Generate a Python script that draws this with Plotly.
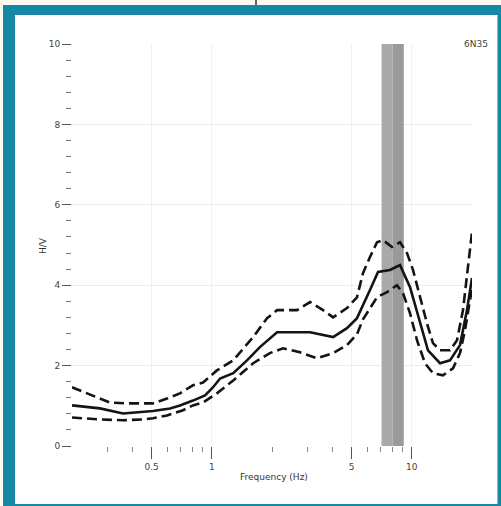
import plotly.graph_objects as go
import math

# Mean H/V curve
mean_freq = [0.200, 0.276, 0.360, 0.508, 0.618, 0.693, 0.805, 0.925, 1.01, 1.10, 1.28, 1.50, 1.74,
             2.12, 3.10, 4.04, 4.74, 5.32, 6.18, 6.78, 7.78, 8.73, 9.80, 10.99, 12.05, 13.84,
             15.52, 17.42, 18.88, 20.0]
mean_hv = [1.01, 0.935, 0.81, 0.87, 0.935, 1.01, 1.13, 1.26, 1.45, 1.68, 1.81, 2.13, 2.46,
           2.83, 2.83, 2.71, 2.93, 3.18, 3.88, 4.33, 4.38, 4.50, 3.95, 3.05, 2.38, 2.06,
           2.13, 2.51, 3.38, 4.18]

# Upper (mean + std) curve
upper_freq = [0.200, 0.255, 0.310, 0.377, 0.508, 0.597, 0.693, 0.805, 0.904, 1.06, 1.28, 1.61,
              1.89, 2.12, 2.67, 3.10, 3.60, 4.04, 4.74, 5.32, 5.70, 6.18, 6.70, 7.18, 7.96,
              8.73, 9.46, 10.14, 10.99, 11.91, 12.76, 13.84, 15.52, 16.83, 18.03, 19.10, 20.0]
upper_hv = [1.46, 1.26, 1.08, 1.06, 1.06, 1.18, 1.31, 1.51, 1.58, 1.88, 2.13, 2.71,
            3.18, 3.38, 3.38, 3.58, 3.38, 3.20, 3.43, 3.70, 4.30, 4.70, 5.07, 5.12, 4.95,
            5.07, 4.80, 4.38, 3.70, 3.05, 2.56, 2.38, 2.38, 2.63, 3.38, 4.45, 5.32]

# Lower (mean - std) curve
lower_freq = [0.200, 0.276, 0.360, 0.453, 0.508, 0.597, 0.718, 0.805, 0.904, 1.06, 1.28, 1.61,
              1.95, 2.27, 2.76, 3.36, 4.04, 4.74, 5.32, 5.70, 6.70, 7.52, 8.43, 9.04, 9.80,
              10.62, 11.64, 12.76, 14.32, 16.07, 17.42, 18.45, 19.54, 20.0]
lower_hv = [0.71, 0.66, 0.64, 0.66, 0.69, 0.76, 0.89, 1.01, 1.08, 1.31, 1.63, 2.06,
            2.31, 2.43, 2.33, 2.18, 2.31, 2.51, 2.78, 3.15, 3.70, 3.83, 4.00, 3.80, 3.30,
            2.63, 2.06, 1.81, 1.76, 1.93, 2.31, 2.88, 3.63, 3.88]

# Peak frequency band
band_light = [7.06, 8.0]
band_dark = [8.0, 9.12]

x_major = [0.5, 1, 5, 10]
x_major_labels = ["0.5", "1", "5", "10"]
x_minor = [0.3, 0.4, 0.6, 0.7, 0.8, 0.9, 2, 3, 4, 6, 7, 8, 9]
y_major = [0, 2, 4, 6, 8, 10]

site_label = "6N35"
FONT = "DejaVu Sans"

fig = go.Figure()

line_col = "#141414"
fig.add_trace(go.Scatter(x=upper_freq, y=upper_hv, mode="lines",
                         line=dict(color=line_col, width=2.6, dash="10px,5px"), showlegend=False))
fig.add_trace(go.Scatter(x=lower_freq, y=lower_hv, mode="lines",
                         line=dict(color=line_col, width=2.6, dash="10px,5px"), showlegend=False))
fig.add_trace(go.Scatter(x=mean_freq, y=mean_hv, mode="lines",
                         line=dict(color=line_col, width=2.6), showlegend=False))

# frame
fig.add_shape(type="rect", xref="paper", yref="paper", x0=-0.1725, x1=1.08, y0=-0.16, y1=1.097,
              fillcolor="#1587a7", line=dict(width=0), layer="below")
fig.add_shape(type="rect", xref="paper", yref="paper", x0=-0.1425, x1=1.0637, y0=-0.1443, y1=1.0721,
              fillcolor="white", line=dict(width=0), layer="below")
fig.add_shape(type="line", xref="paper", yref="paper", x0=(256 - 72) / 400, x1=(256 - 72) / 400,
              y0=1.097, y1=1.12, line=dict(color="#333333", width=1.5), layer="below")

# band
fig.add_shape(type="rect", xref="x", yref="y", x0=band_light[0], x1=band_light[1],
              y0=0, y1=10, fillcolor="#a9a9a9", line=dict(width=0), layer="between")
fig.add_shape(type="rect", xref="x", yref="y", x0=band_dark[0], x1=band_dark[1],
              y0=0, y1=10, fillcolor="#9a9a9a", line=dict(width=0), layer="between")

fig.update_xaxes(type="log", range=[math.log10(0.2), math.log10(20)],
                 tickmode="array", tickvals=x_major, ticktext=x_major_labels,
                 ticks="outside", ticklen=12, tickcolor="#555555", tickwidth=1,
                 tickfont=dict(family=FONT, size=9, color="#444444"),
                 showgrid=True, gridcolor="#efefef", gridwidth=1,
                 minor=dict(tickmode="array", tickvals=x_minor, ticks="outside", ticklen=5,
                            tickcolor="#888888", showgrid=False),
                 showline=False, zeroline=False)
fig.update_yaxes(range=[0, 10], tickmode="array", tickvals=y_major,
                 ticks="outside", ticklen=9, tickcolor="#555555", tickwidth=1,
                 tickfont=dict(family=FONT, size=9, color="#444444"),
                 showgrid=True, gridcolor="#ececec", gridwidth=1,
                 minor=dict(dtick=0.4, ticks="outside", ticklen=5, tickcolor="#777777", showgrid=False),
                 showline=False, zeroline=False)

fig.add_annotation(text="Frequency (Hz)", xref="paper", yref="paper",
                   x=(274 - 72) / 400, y=1 - (477 - 44) / 402, xanchor="center", yanchor="middle",
                   showarrow=False, font=dict(family=FONT, size=9, color="#333333"))
fig.add_annotation(text="H/V", xref="paper", yref="paper", textangle=-90,
                   x=(43 - 72) / 400, y=1 - (246 - 44) / 402, xanchor="center", yanchor="middle",
                   showarrow=False, font=dict(family=FONT, size=9, color="#333333"))
fig.add_annotation(text=site_label, xref="paper", yref="paper",
                   x=(476 - 72) / 400, y=1, xanchor="center", yanchor="middle",
                   showarrow=False, font=dict(family=FONT, size=9, color="#444444"))

fig.update_layout(width=501, height=506, margin=dict(l=72, r=29, t=44, b=60),
                  paper_bgcolor="#fcfbee", plot_bgcolor="white",
                  font=dict(family=FONT))
fig.write_html("out.html", config={"displayModeBar": False},
               post_script="document.body.style.margin='0';document.body.style.padding='0';")
